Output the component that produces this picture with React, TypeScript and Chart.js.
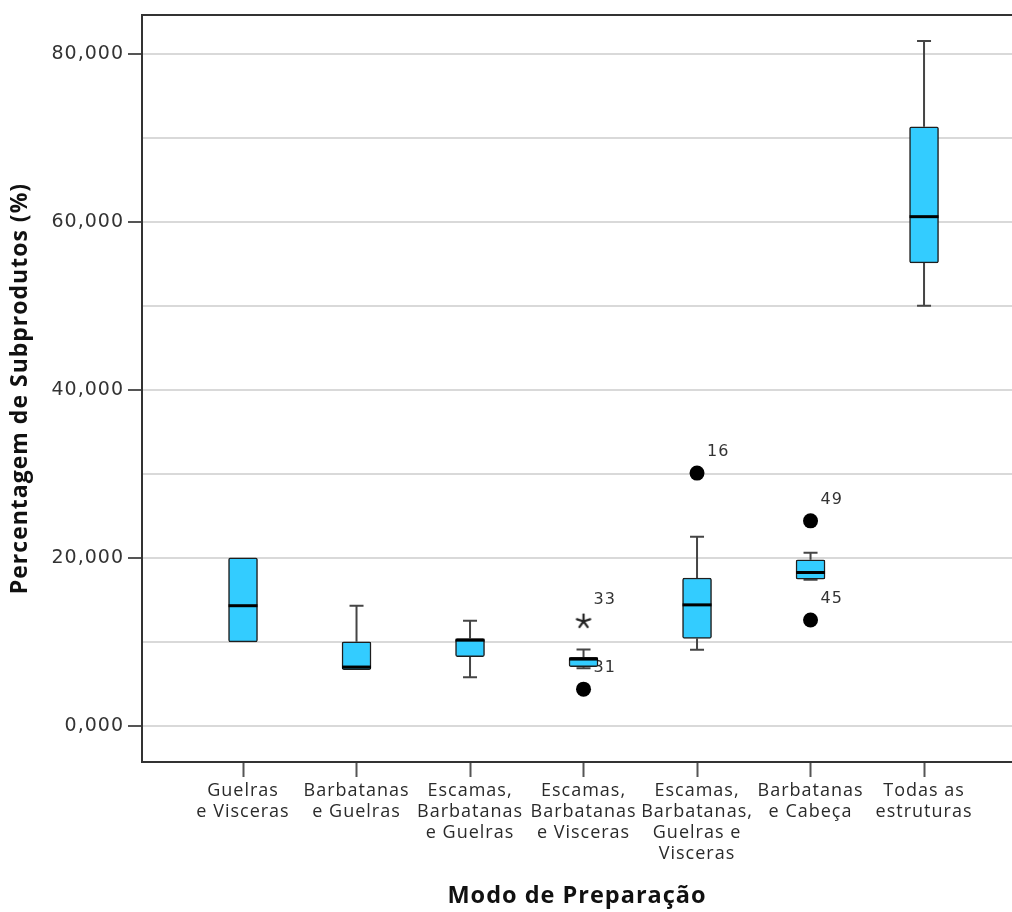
import React, { useEffect, useRef } from "react";
import { Chart, registerables } from "chart.js";

Chart.register(...registerables);

// Preparation modes (x categories), multi-line tick labels
const categoryLabels: string[][] = [
  ["Guelras", "e Visceras"],
  ["Barbatanas", "e Guelras"],
  ["Escamas,", "Barbatanas", "e Guelras"],
  ["Escamas,", "Barbatanas", "e Visceras"],
  ["Escamas,", "Barbatanas,", "Guelras e", "Visceras"],
  ["Barbatanas", "e Cabeça"],
  ["Todas as", "estruturas"],
];

// Box plot statistics per category (% by-products)
const whiskerLow = [10.0, 6.7, 5.8, 6.86, 9.05, 17.4, 50.0];
const q1 = [10.0, 6.7, 8.25, 7.06, 10.4, 17.46, 55.1];
const median = [14.3, 7.0, 10.2, 7.95, 14.4, 18.25, 60.6];
const q3 = [20.0, 10.0, 10.4, 8.15, 17.6, 19.76, 71.3];
const whiskerHigh = [20.0, 14.3, 12.5, 9.1, 22.5, 20.6, 81.5];

// Outliers (circles) and extreme values (asterisks) with case numbers
const outlierX = [3, 4, 5, 5];
const outlierY = [4.37, 30.08, 24.4, 12.6];
const outlierCase = ["31", "16", "49", "45"];
const extremeX = [3];
const extremeY = [12.5];
const extremeCase = ["33"];

// Y axis ticks: grid every 10, labels every 20
const yTickValues = [0, 10, 20, 30, 40, 50, 60, 70, 80];

const BOX_FILL = "#33CCFF";
const BOX_EDGE = "#1e1e1e";
const WHISKER = "#454545";
const BOX_WIDTH = 29;
const CAP_HALF = 7;
const LETTER_SPACING = "1px";

function makeAsterisk(): HTMLCanvasElement {
  const c = document.createElement("canvas");
  c.width = 18;
  c.height = 16;
  const ctx = c.getContext("2d")!;
  ctx.strokeStyle = "#222";
  ctx.lineWidth = 2.2;
  ctx.lineCap = "round";
  const cx = 9, cy = 8.5, r = 7;
  for (let k = 0; k < 5; k++) {
    const a = -Math.PI / 2 + (k * 2 * Math.PI) / 5;
    ctx.beginPath();
    ctx.moveTo(cx, cy);
    ctx.lineTo(cx + r * Math.cos(a), cy + r * Math.sin(a));
    ctx.stroke();
  }
  return c;
}

const boxPlotPlugin = {
  id: "boxPlotParts",
  beforeLayout(chart: any) {
    (chart.ctx as any).letterSpacing = LETTER_SPACING;
  },
  beforeDraw(chart: any) {
    (chart.ctx as any).letterSpacing = LETTER_SPACING;
  },
  beforeDatasetsDraw(chart: any) {
    const { ctx, scales } = chart;
    const xs = scales.x, ys = scales.y;
    ctx.save();
    // case-number labels sit beneath the boxes
    ctx.font = "16px 'DejaVu Sans'";
    ctx.fillStyle = "#333";
    ctx.textAlign = "left";
    ctx.textBaseline = "middle";
    const drawLabels = (xv: number[], yv: number[], lab: string[]) => {
      xv.forEach((x, i) => {
        const px = xs.getPixelForValue(x);
        const py = ys.getPixelForValue(yv[i]);
        ctx.fillText(lab[i], px + 10, py - 21);
      });
    };
    drawLabels(outlierX, outlierY, outlierCase);
    drawLabels(extremeX, extremeY, extremeCase);

    // whiskers
    ctx.strokeStyle = WHISKER;
    ctx.lineWidth = 2;
    q1.forEach((_, i) => {
      const px = xs.getPixelForValue(i);
      const seg = (from: number, to: number) => {
        if (Math.abs(to - from) < 1e-6) return;
        const y0 = ys.getPixelForValue(from);
        const y1 = ys.getPixelForValue(to);
        ctx.beginPath();
        ctx.moveTo(px, y0);
        ctx.lineTo(px, y1);
        ctx.moveTo(px - CAP_HALF, y1);
        ctx.lineTo(px + CAP_HALF, y1);
        ctx.stroke();
      };
      seg(q3[i], whiskerHigh[i]);
      seg(q1[i], whiskerLow[i]);
    });
    ctx.restore();
  },
  afterDatasetsDraw(chart: any) {
    const { ctx, scales } = chart;
    const xs = scales.x, ys = scales.y;
    ctx.save();
    ctx.strokeStyle = "#000";
    ctx.lineWidth = 3;
    median.forEach((m, i) => {
      const px = xs.getPixelForValue(i);
      const py = ys.getPixelForValue(m);
      ctx.beginPath();
      ctx.moveTo(px - BOX_WIDTH / 2, py);
      ctx.lineTo(px + BOX_WIDTH / 2, py);
      ctx.stroke();
    });
    ctx.restore();
  },
  afterDraw(chart: any) {
    const { ctx, chartArea } = chart;
    ctx.save();
    ctx.strokeStyle = "#333";
    ctx.lineWidth = 2;
    ctx.beginPath();
    ctx.moveTo(chartArea.left - 1, chartArea.top);
    ctx.lineTo(chartArea.right, chartArea.top);
    ctx.stroke();
    ctx.restore();
  },
};

export default function App() {
  const canvasRef = useRef<HTMLCanvasElement | null>(null);

  useEffect(() => {
    if (!canvasRef.current) return;
    const asterisk = makeAsterisk();
    const chart = new Chart(canvasRef.current, {
      type: "scatter",
      data: {
        datasets: [
          {
            type: "bar",
            label: "Caixas",
            data: q1.map((lo, i) => ({ x: i, y: [lo, q3[i]] })) as any,
            backgroundColor: BOX_FILL,
            borderColor: BOX_EDGE,
            borderWidth: 1.5,
            borderSkipped: false,
            borderRadius: 2,
            barThickness: BOX_WIDTH,
            order: 2,
          } as any,
          {
            type: "scatter",
            label: "Outliers",
            data: outlierX.map((x, i) => ({ x, y: outlierY[i] })),
            backgroundColor: "#000",
            borderWidth: 0,
            pointRadius: 7.5,
            order: 1,
          },
          {
            type: "scatter",
            label: "Extremos",
            data: extremeX.map((x, i) => ({ x, y: extremeY[i] })),
            pointStyle: asterisk as any,
            pointRadius: 8,
            order: 1,
          },
        ],
      },
      options: {
        responsive: false,
        animation: false,
        events: [],
        layout: { autoPadding: false, padding: { top: 15, left: 0, right: 0, bottom: 0 } },
        plugins: {
          legend: { display: false },
          tooltip: { enabled: false },
        },
        scales: {
          x: {
            type: "linear",
            min: -0.89,
            max: 6.775,
            offset: false,
            afterBuildTicks: (scale: any) => {
              scale.ticks = categoryLabels.map((_, i) => ({ value: i }));
            },
            afterFit: (scale: any) => {
              scale.height = 150;
              scale.paddingLeft = 0;
              scale.paddingRight = 0;
            },
            grid: {
              display: true,
              drawOnChartArea: false,
              offset: false,
              tickLength: 15,
              tickColor: "#555",
              tickWidth: 2,
            },
            border: { display: true, color: "#333", width: 2 },
            ticks: {
              autoSkip: false,
              maxRotation: 0,
              minRotation: 0,
              padding: 3,
              color: "#2a2a2a",
              font: { family: "Open Sans", size: 18, lineHeight: 1.17 },
              callback: (v: any) => categoryLabels[Number(v)] ?? "",
            },
            title: {
              display: true,
              text: "Modo de Preparação",
              color: "#111",
              font: { family: "Open Sans", size: 23.5, weight: "bold", lineHeight: 1.2 },
              padding: { top: 0, bottom: 2 },
            },
          },
          y: {
            type: "linear",
            min: -4.3,
            max: 84.6,
            afterBuildTicks: (scale: any) => {
              scale.ticks = yTickValues.map((v) => ({ value: v }));
            },
            afterFit: (scale: any) => {
              scale.width = 142;
              scale.paddingTop = 0;
              scale.paddingBottom = 0;
            },
            grid: {
              color: "#d9d9d9",
              lineWidth: 2,
              tickLength: 14,
              tickWidth: 2,
              tickColor: (c: any) =>
                c.tick && c.tick.value % 20 === 0 ? "#555" : "rgba(0,0,0,0)",
            },
            border: { display: true, color: "#333", width: 2 },
            ticks: {
              padding: 4,
              color: "#333",
              font: { family: "DejaVu Sans", size: 19 },
              callback: (v: any) =>
                Number(v) % 20 === 0 ? Number(v).toFixed(3).replace(".", ",") : "",
            },
            title: {
              display: true,
              text: "Percentagem de Subprodutos (%)",
              color: "#111",
              font: { family: "Open Sans", size: 23, weight: "bold", lineHeight: 1.2 },
              padding: { top: 7, bottom: 0 },
            },
          },
        },
      },
      plugins: [boxPlotPlugin],
    });
    return () => chart.destroy();
  }, []);

  return (
    <div style={{ position: "absolute", left: 0, top: 0, width: 1012, height: 912, background: "#fff" }}>
      <canvas ref={canvasRef} width={1012} height={912} style={{ display: "block" }} />
    </div>
  );
}
